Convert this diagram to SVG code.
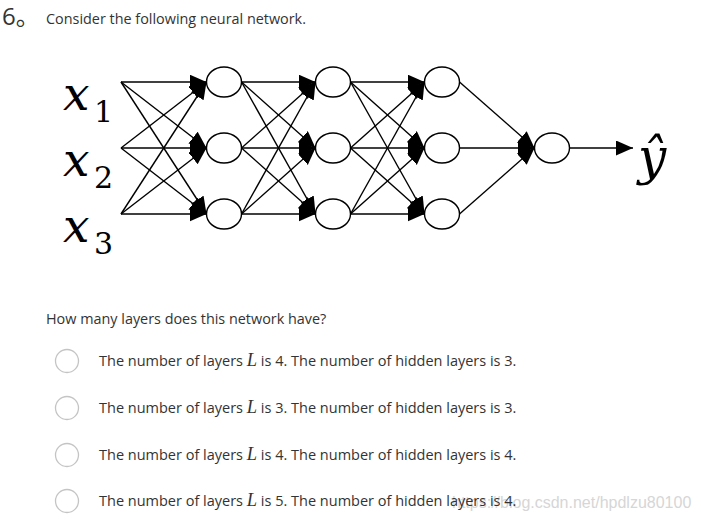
<svg xmlns="http://www.w3.org/2000/svg" width="701" height="527" viewBox="0 0 701 527">
<defs>
<marker id="ah" markerUnits="userSpaceOnUse" markerWidth="18" markerHeight="16" refX="17" refY="7.5" orient="auto">
<path d="M0,0 L17,7.5 L0,15 z" fill="#000"/>
</marker>
<style>
.e{stroke:#000;stroke-width:1.4;fill:none;marker-end:url(#ah)}
.n{fill:#fff;stroke:#000;stroke-width:1.4}
.t{font-family:"Open Sans","Noto Sans",sans-serif;font-size:14.4px;fill:#333}
.o{font-size:14.5px}
.m{font-family:"DejaVu Serif",serif;font-style:italic;fill:#000}
.s{font-family:"DejaVu Serif",serif;fill:#000}
.r{fill:#fff;stroke:#c4c4c4;stroke-width:1.3}
.L{font-family:"Liberation Serif",serif;font-style:italic;font-size:18.5px}
</style>
</defs>
<rect width="701" height="527" fill="#fff"/>
<text x="2" y="25" style="font-family:'Open Sans','Noto Sans CJK SC',sans-serif;font-size:24px;fill:#333">6。</text>
<text class="t" x="46" y="24">Consider the following neural network.</text>

<g id="connectors">
<line class="e" x1="121" y1="82" x2="206.5" y2="82"/>
<line class="e" x1="121" y1="82" x2="206.5" y2="148"/>
<line class="e" x1="121" y1="82" x2="206.5" y2="214"/>
<line class="e" x1="121" y1="148" x2="206.5" y2="82"/>
<line class="e" x1="121" y1="148" x2="206.5" y2="148"/>
<line class="e" x1="121" y1="148" x2="206.5" y2="214"/>
<line class="e" x1="121" y1="214" x2="206.5" y2="82"/>
<line class="e" x1="121" y1="214" x2="206.5" y2="148"/>
<line class="e" x1="121" y1="214" x2="206.5" y2="214"/>
<line class="e" x1="241.5" y1="82" x2="315.5" y2="82"/>
<line class="e" x1="241.5" y1="82" x2="315.5" y2="148"/>
<line class="e" x1="241.5" y1="82" x2="315.5" y2="214"/>
<line class="e" x1="241.5" y1="148" x2="315.5" y2="82"/>
<line class="e" x1="241.5" y1="148" x2="315.5" y2="148"/>
<line class="e" x1="241.5" y1="148" x2="315.5" y2="214"/>
<line class="e" x1="241.5" y1="214" x2="315.5" y2="82"/>
<line class="e" x1="241.5" y1="214" x2="315.5" y2="148"/>
<line class="e" x1="241.5" y1="214" x2="315.5" y2="214"/>
<line class="e" x1="350.5" y1="82" x2="424.5" y2="82"/>
<line class="e" x1="350.5" y1="82" x2="424.5" y2="148"/>
<line class="e" x1="350.5" y1="82" x2="424.5" y2="214"/>
<line class="e" x1="350.5" y1="148" x2="424.5" y2="82"/>
<line class="e" x1="350.5" y1="148" x2="424.5" y2="148"/>
<line class="e" x1="350.5" y1="148" x2="424.5" y2="214"/>
<line class="e" x1="350.5" y1="214" x2="424.5" y2="82"/>
<line class="e" x1="350.5" y1="214" x2="424.5" y2="148"/>
<line class="e" x1="350.5" y1="214" x2="424.5" y2="214"/>
<line class="e" x1="459.5" y1="82" x2="534.5" y2="148"/>
<line class="e" x1="459.5" y1="148" x2="534.5" y2="148"/>
<line class="e" x1="459.5" y1="214" x2="534.5" y2="148"/>
<line class="e" x1="569.5" y1="148" x2="633" y2="148"/>
</g>

<g id="x1"><text class="m" x="63" y="110" font-size="47">x</text><text class="s" x="94" y="122" font-size="30">1</text></g>
<g id="x2"><text class="m" x="63" y="176" font-size="47">x</text><text class="s" x="94" y="188" font-size="30">2</text></g>
<g id="x3"><text class="m" x="63" y="242" font-size="47">x</text><text class="s" x="94" y="254" font-size="30">3</text></g>

<g id="h1a"><ellipse class="n" cx="224" cy="82" rx="17.5" ry="15"/></g>
<g id="h1b"><ellipse class="n" cx="224" cy="148" rx="17.5" ry="15"/></g>
<g id="h1c"><ellipse class="n" cx="224" cy="214" rx="17.5" ry="15"/></g>
<g id="h2a"><ellipse class="n" cx="333" cy="82" rx="17.5" ry="15"/></g>
<g id="h2b"><ellipse class="n" cx="333" cy="148" rx="17.5" ry="15"/></g>
<g id="h2c"><ellipse class="n" cx="333" cy="214" rx="17.5" ry="15"/></g>
<g id="h3a"><ellipse class="n" cx="442" cy="82" rx="17.5" ry="15"/></g>
<g id="h3b"><ellipse class="n" cx="442" cy="148" rx="17.5" ry="15"/></g>
<g id="h3c"><ellipse class="n" cx="442" cy="214" rx="17.5" ry="15"/></g>
<g id="out"><ellipse class="n" cx="552" cy="148" rx="17.5" ry="15"/></g>
<g id="yhat"><text class="m" x="638" y="174" font-size="50">ŷ</text></g>

<text class="t" x="46" y="324">How many layers does this network have?</text>

<text x="452" y="508" style="font-family:'Liberation Sans',sans-serif;font-size:16px;fill:#d6d6d6">https://blog.csdn.net/hpdlzu80100</text>

<g id="opt1"><circle class="r" cx="67" cy="361" r="11.5"/><text class="t o" x="99" y="366">The number of layers <tspan class="L">L</tspan> is 4. The number of hidden layers is 3.</text></g>
<g id="opt2"><circle class="r" cx="67" cy="408" r="11.5"/><text class="t o" x="99" y="413">The number of layers <tspan class="L">L</tspan> is 3. The number of hidden layers is 3.</text></g>
<g id="opt3"><circle class="r" cx="67" cy="455" r="11.5"/><text class="t o" x="99" y="460">The number of layers <tspan class="L">L</tspan> is 4. The number of hidden layers is 4.</text></g>
<g id="opt4"><circle class="r" cx="67" cy="501" r="11.5"/><text class="t o" x="99" y="506">The number of layers <tspan class="L">L</tspan> is 5. The number of hidden layers is 4.</text></g>
</svg>
